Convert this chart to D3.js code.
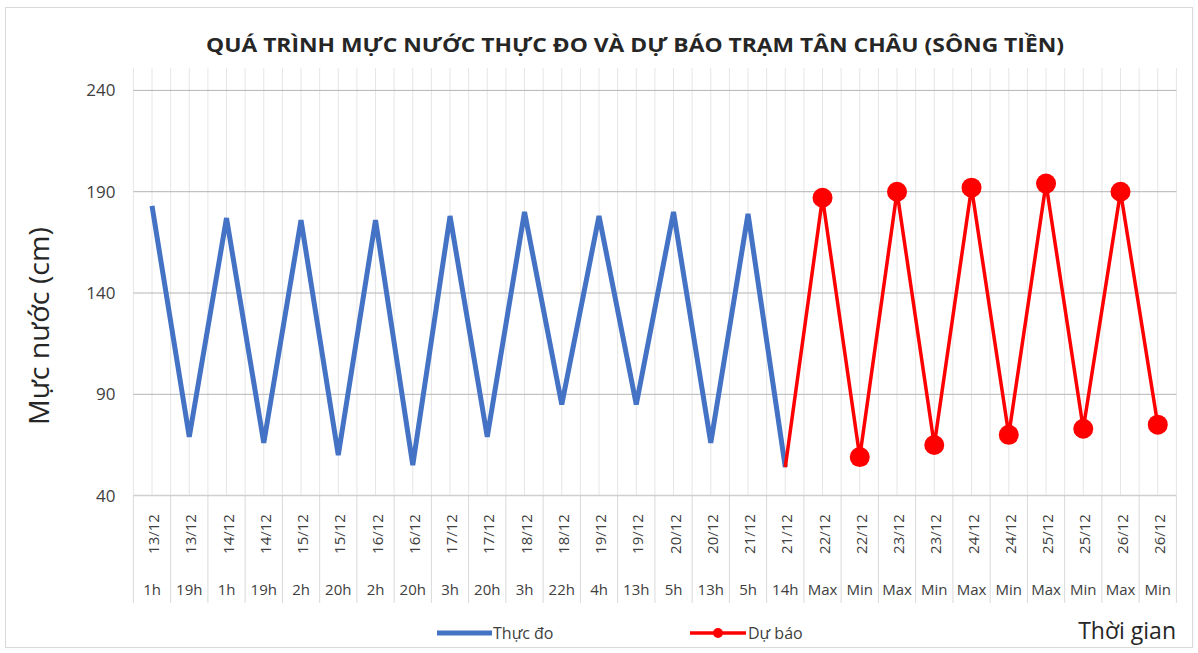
<!DOCTYPE html>
<html>
<head>
<meta charset="utf-8">
<script src="https://cdn.jsdelivr.net/npm/d3@7"></script>
<style>
  body { margin: 0; background: #fff; }
  svg text { font-family: "Open Sans", "DejaVu Sans", sans-serif; fill: #404040; }
</style>
</head>
<body>
<svg id="drawing_region"></svg>
<script>
// category labels (two-level axis)
const categoryDates = ["13/12","13/12","14/12","14/12","15/12","15/12","16/12","16/12","17/12","17/12",
    "18/12","18/12","19/12","19/12","20/12","20/12","21/12","21/12",
    "22/12","22/12","23/12","23/12","24/12","24/12","25/12","25/12","26/12","26/12"];
const categoryHours = ["1h","19h","1h","19h","2h","20h","2h","20h","3h","20h",
    "3h","22h","4h","13h","5h","13h","5h","14h",
    "Max","Min","Max","Min","Max","Min","Max","Min","Max","Min"];

// Thực đo (observed) values, cm
const observedValues = [183, 69, 177, 66, 176, 60, 176, 55, 178, 69, 180, 85, 178, 85, 180, 66, 179, 54];
// Dự báo (forecast) values, cm; first one joins the last observed point
const forecastValues = [54, 187, 59, 190, 65, 192, 70, 194, 73, 190, 75];
const forecastStart = 17;

const yTicks = [40, 90, 140, 190, 240];

const W = 1198, H = 653;
const margin = { left: 133.4, right: 1176.4, top: 90.4, bottom: 495.6 };

const svg = d3.select('#drawing_region')
    .attr('width', W)
    .attr('height', H);

// chart border
svg.append('rect')
    .attr('x', 5.5).attr('y', 7.5)
    .attr('width', 1187).attr('height', 640)
    .attr('fill', '#fff')
    .attr('stroke', '#d9d9d9');

const xscale = d3.scaleBand()
    .domain(d3.range(categoryDates.length))
    .range([margin.left, margin.right]);

const yscale = d3.scaleLinear()
    .domain([40, 240])
    .range([margin.bottom, margin.top]);

const bw = xscale.bandwidth();

// vertical gridlines (band edges and centres)
const vlines = [];
categoryDates.forEach((d, i) => { vlines.push(xscale(i)); vlines.push(xscale(i) + bw / 2); });
vlines.push(margin.right);
svg.append('g')
    .selectAll('line')
    .data(vlines)
    .join('line')
    .attr('x1', d => d).attr('x2', d => d)
    .attr('y1', 68).attr('y2', margin.bottom)
    .attr('stroke', '#e6e6e6')
    .attr('stroke-width', 1);

// horizontal gridlines
svg.append('g')
    .selectAll('line')
    .data(yTicks.filter(t => t > 40))
    .join('line')
    .attr('x1', margin.left).attr('x2', margin.right)
    .attr('y1', d => yscale(d)).attr('y2', d => yscale(d))
    .attr('stroke', '#b4b4b4')
    .attr('stroke-width', 1);

// y axis labels
const yaxis = d3.axisLeft(yscale)
    .tickValues(yTicks)
    .tickSize(0)
    .tickPadding(18);
const yg = svg.append('g')
    .attr('transform', `translate(${margin.left},0)`)
    .call(yaxis);
yg.select('.domain').remove();
yg.selectAll('text')
    .attr('font-size', 17)
    .attr('fill', '#595959')
    .style('font-family', '"Open Sans", sans-serif');

// category axis separators
svg.append('g')
    .selectAll('line')
    .data(d3.range(categoryDates.length + 1))
    .join('line')
    .attr('x1', i => margin.left + i * bw).attr('x2', i => margin.left + i * bw)
    .attr('y1', margin.bottom).attr('y2', 603)
    .attr('stroke', '#d9d9d9')
    .attr('stroke-width', 1);

// baseline
svg.append('line')
    .attr('x1', margin.left).attr('x2', margin.right)
    .attr('y1', margin.bottom).attr('y2', margin.bottom)
    .attr('stroke', '#d0d0d0')
    .attr('stroke-width', 1.5);

// date labels (rotated)
svg.append('g')
    .selectAll('text')
    .data(categoryDates)
    .join('text')
    .attr('transform', (d, i) => `translate(${xscale(i) + bw / 2 + 7},534) rotate(-90)`)
    .attr('text-anchor', 'middle')
    .attr('font-size', 15)
    .attr('fill', '#595959')
    .text(d => d);

// hour labels
svg.append('g')
    .selectAll('text')
    .data(categoryHours)
    .join('text')
    .attr('x', (d, i) => xscale(i) + bw / 2)
    .attr('y', 595)
    .attr('text-anchor', 'middle')
    .attr('font-size', 15)
    .attr('fill', '#595959')
    .text(d => d);

// series
const observed = observedValues.map((v, i) => ({ i: i, v: v }));
const forecast = forecastValues.map((v, k) => ({ i: forecastStart + k, v: v }));

const line = d3.line()
    .x(d => xscale(d.i) + bw / 2)
    .y(d => yscale(d.v));

svg.append('path')
    .attr('d', line(observed))
    .attr('fill', 'none')
    .attr('stroke', '#4472c4')
    .attr('stroke-width', 5)
    .attr('stroke-linejoin', 'miter');

svg.append('path')
    .attr('d', line(forecast))
    .attr('fill', 'none')
    .attr('stroke', '#ff0000')
    .attr('stroke-width', 3.5)
    .attr('stroke-linejoin', 'round');

svg.append('g')
    .selectAll('circle')
    .data(forecast.slice(1))
    .join('circle')
    .attr('cx', d => xscale(d.i) + bw / 2)
    .attr('cy', d => yscale(d.v))
    .attr('r', 10)
    .attr('fill', '#ff0000');

// title
svg.append('text')
    .attr('x', 635).attr('y', 52)
    .attr('text-anchor', 'middle')
    .attr('font-size', 20)
    .attr('font-weight', 'bold')
    .attr('textLength', 858)
    .attr('lengthAdjust', 'spacingAndGlyphs')
    .style('fill', '#262626')
    .text('QUÁ TRÌNH MỰC NƯỚC THỰC ĐO VÀ DỰ BÁO TRẠM TÂN CHÂU (SÔNG TIỀN)');

// y axis title
svg.append('text')
    .attr('transform', 'translate(49,326) rotate(-90)')
    .attr('text-anchor', 'middle')
    .attr('font-size', 27)
    .attr('textLength', 198)
    .attr('lengthAdjust', 'spacingAndGlyphs')
    .style('fill', '#262626')
    .text('Mực nước (cm)');

// x axis title
svg.append('text')
    .attr('x', 1176).attr('y', 639)
    .attr('text-anchor', 'end')
    .attr('font-size', 23)
    .style('fill', '#262626')
    .text('Thời gian');

// legend
const legend = svg.append('g');
legend.append('line')
    .attr('x1', 437).attr('x2', 492).attr('y1', 633).attr('y2', 633)
    .attr('stroke', '#4472c4').attr('stroke-width', 5);
legend.append('text')
    .attr('x', 493).attr('y', 639)
    .attr('font-size', 16)
    .style('fill', '#404040')
    .text('Thực đo');
legend.append('line')
    .attr('x1', 690).attr('x2', 746).attr('y1', 633).attr('y2', 633)
    .attr('stroke', '#ff0000').attr('stroke-width', 3.5);
legend.append('circle')
    .attr('cx', 718).attr('cy', 633).attr('r', 5)
    .attr('fill', '#ff0000');
legend.append('text')
    .attr('x', 748).attr('y', 639)
    .attr('font-size', 16)
    .style('fill', '#404040')
    .text('Dự báo');
</script>
</body>
</html>
